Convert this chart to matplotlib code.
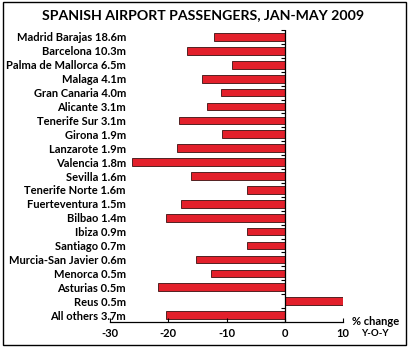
import numpy as np
from matplotlib import pyplot as plt
from matplotlib.patches import Rectangle

# Airports with passenger volume (Jan-May 2009) and % change y-o-y
airports = ['Madrid Barajas 18.6m', 'Barcelona 10.3m', 'Palma de Mallorca 6.5m',
            'Malaga 4.1m', 'Gran Canaria 4.0m', 'Alicante 3.1m', 'Tenerife Sur 3.1m',
            'Girona 1.9m', 'Lanzarote 1.9m', 'Valencia 1.8m', 'Sevilla 1.6m',
            'Tenerife Norte 1.6m', 'Fuerteventura 1.5m', 'Bilbao 1.4m', 'Ibiza 0.9m',
            'Santiago 0.7m', 'Murcia-San Javier 0.6m', 'Menorca 0.5m', 'Asturias 0.5m',
            'Reus 0.5m', 'All others 3.7m']
change = [-12.2, -16.8, -9.1, -14.2, -11.0, -13.4, -18.2, -10.8, -18.5, -26.2,
          -16.1, -6.5, -17.8, -20.4, -6.5, -6.5, -15.3, -12.7, -21.8, 10.5, -20.4]
xticks = [-30, -20, -10, 0, 10]

plt.rcParams['font.family'] = ['Lato', 'DejaVu Sans']
plt.rcParams['font.weight'] = 'bold'

fig = plt.figure(figsize=(4.09, 3.6), dpi=100)
ax = fig.add_axes([0.269, 0.1056, 0.5697, 0.811])

y = np.arange(len(airports))
ax.barh(y, change, height=0.55, color='#e3202b', edgecolor='#3a1010', linewidth=0.6)
ax.set_ylim(len(airports) - 0.5, -0.5)
ax.set_xlim(-30, 10)

# category labels sit at the left, the zero line carries the ticks
ax.set_yticks(y)
ax.set_yticklabels(airports, fontsize=8, fontweight='bold')
ax.tick_params(axis='y', length=0, pad=-11.5)
edges = np.arange(len(airports) + 1) - 0.5
ax.axvline(0, color='black', linewidth=0.9)
ax.plot(np.zeros(len(edges)), edges, linestyle='none', marker=0, markersize=3,
        markeredgewidth=0.8, color='black', clip_on=False)

ax.set_xticks(xticks)
ax.set_xticklabels([str(t) for t in xticks], fontsize=8, fontweight='bold')
ax.tick_params(axis='x', length=3, direction='in', width=0.8, pad=4)

for s in ['top', 'right', 'left']:
    ax.spines[s].set_visible(False)
ax.spines['bottom'].set_linewidth(0.9)

fig.text(0.496, 0.958, 'SPANISH AIRPORT PASSENGERS, JAN-MAY 2009', ha='center', va='center',
         fontsize=10.2, fontweight='bold')
fig.text(0.86, 0.108, '% change', ha='left', va='center', fontsize=8, fontweight='bold')
fig.text(0.883, 0.075, 'Y-O-Y', ha='left', va='center', fontsize=7, fontweight='bold')

fig.patches.append(Rectangle((0.0073, 0.0417), 0.9854, 0.9527, transform=fig.transFigure,
                             fill=False, edgecolor='black', linewidth=1.0))

fig.savefig('out.png', dpi=100)
